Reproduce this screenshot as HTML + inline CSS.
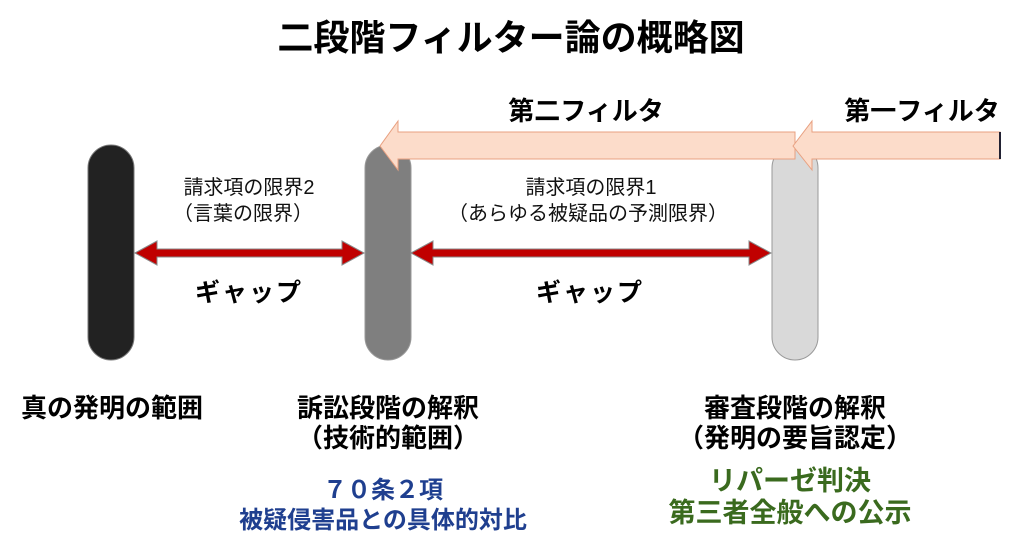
<!DOCTYPE html>
<html><head><meta charset="utf-8"><style>
body{margin:0;background:#fff;}
svg{display:block;font-family:"Liberation Sans","Noto Sans CJK JP",sans-serif;}
</style></head><body>
<svg width="1022" height="547" viewBox="0 0 1022 547" xmlns="http://www.w3.org/2000/svg">
<text x="511" y="50" font-size="36" font-weight="bold" text-anchor="middle" fill="#000">二段階フィルター論の概略図</text>
<text x="586" y="120" font-size="26" font-weight="bold" text-anchor="middle">第二フィルタ</text>
<text x="922" y="120" font-size="26" font-weight="bold" text-anchor="middle">第一フィルタ</text>
<rect x="88" y="145" width="46" height="215" rx="23" fill="#222" stroke="#777" stroke-width="1"/>
<rect x="365" y="145" width="46" height="215" rx="23" fill="#7f7f7f" stroke="#999" stroke-width="1"/>
<rect x="772" y="145" width="46" height="215" rx="23" fill="#d9d9d9" stroke="#999" stroke-width="1"/>
<polygon points="380,146 398,121 398,132 795,132 795,159 398,159 398,170" fill="#fcdcca" stroke="#e8a080" stroke-width="1"/>
<polygon points="793,146 812,121 812,132 1000,132 1000,159 812,159 812,170" fill="#fcdcca" stroke="#e8a080" stroke-width="1"/>
<line x1="1000" y1="132" x2="1000" y2="159" stroke="#223" stroke-width="2"/>
<g fill="#c00000" stroke="#888" stroke-width="1">
<polygon points="135,253 157,241 157,249 342,249 342,241 364,253 342,265 342,257 157,257 157,265"/>
<polygon points="411,253 433,241 433,249 749,249 749,241 771,253 749,265 749,257 433,257 433,265"/>
</g>
<g font-size="20" text-anchor="middle" fill="#111">
<text x="249" y="194">請求項の限界2</text>
<text x="243" y="220">（言葉の限界）</text>
<text x="591" y="194">請求項の限界1</text>
<text x="588" y="220">（あらゆる被疑品の予測限界）</text>
</g>
<g font-size="26" font-weight="bold" text-anchor="middle" fill="#000">
<text x="249" y="301" letter-spacing="2" font-size="25">ギャップ</text>
<text x="590" y="301" letter-spacing="2" font-size="25">ギャップ</text>
<text x="112" y="417">真の発明の範囲</text>
<text x="388" y="417">訴訟段階の解釈</text>
<text x="388" y="447">（技術的範囲）</text>
<text x="795" y="417">審査段階の解釈</text>
<text x="795" y="447">（発明の要旨認定）</text>
</g>
<g font-size="24" font-weight="bold" text-anchor="middle">
<text x="383" y="498" fill="#1f3f8f">７０条２項</text>
<text x="383" y="528" fill="#1f3f8f">被疑侵害品との具体的対比</text>
<text x="790" y="490" fill="#3a6a1e" font-size="27">リパーゼ判決</text>
<text x="790" y="522" fill="#3a6a1e" font-size="27">第三者全般への公示</text>
</g>
</svg>
</body></html>
